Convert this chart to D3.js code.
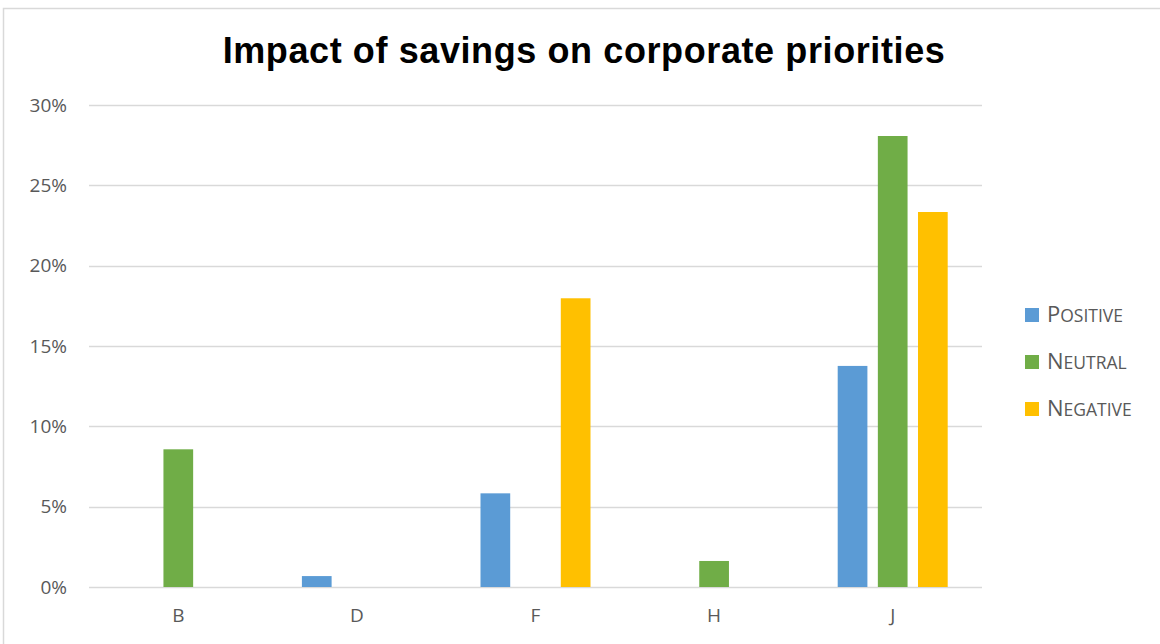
<!DOCTYPE html>
<html>
<head>
<meta charset="utf-8">
<script src="https://cdn.jsdelivr.net/npm/d3@7"></script>
<style>
    body { margin: 0; background: #fff; }
</style>
</head>
<body>
<svg id="chart"></svg>
<script>
// data
var categories = ["B", "D", "F", "H", "J"];
var seriesNames = ["Positive", "Neutral", "Negative"];
var positive = [0, 0.0068, 0.0583, 0, 0.1376];
var neutral = [0.0857, 0, 0, 0.0162, 0.2807];
var negative = [0, 0, 0.1797, 0, 0.2334];
var yTicks = [0, 0.05, 0.10, 0.15, 0.20, 0.25, 0.30];
var colors = ["#5b9bd5", "#70ad47", "#ffc000"];

var seriesValues = [positive, neutral, negative];

var svgWidth = 1160, svgHeight = 644;
var margin = {top: 105, left: 89, right: 178, bottom: 57};
var width = svgWidth - margin.left - margin.right;
var height = svgHeight - margin.top - margin.bottom;

var svg = d3.select("#chart").attr("width", svgWidth).attr("height", svgHeight);

// chart frame
svg.append("rect")
    .attr("x", 3.5).attr("y", 8.5)
    .attr("width", svgWidth).attr("height", svgHeight)
    .attr("fill", "#fff").attr("stroke", "#d9d9d9").attr("stroke-width", 1.5);

svg.append("text")
    .attr("x", 584)
    .attr("y", 63)
    .attr("text-anchor", "middle")
    .style("font-family", "Liberation Sans, Arial, sans-serif")
    .style("font-weight", "bold")
    .style("font-size", "36px")
    .style("letter-spacing", "0.6px")
    .attr("fill", "#000")
    .text("Impact of savings on corporate priorities");

var g = svg.append("g").attr("transform", "translate(" + margin.left + "," + margin.top + ")");

var x = d3.scaleBand().domain(categories).range([0, width]).paddingInner(0).paddingOuter(0);
var x1 = d3.scaleBand().domain(seriesNames).range([x.bandwidth() / 2 - 55, x.bandwidth() / 2 + 55]).paddingInner(0.26).paddingOuter(0);
var y = d3.scaleLinear().domain([0, 0.30]).range([height, 0]);

// gridlines
g.selectAll(".grid")
    .data(yTicks)
    .enter().append("line")
    .attr("class", "grid")
    .attr("x1", 0).attr("x2", width)
    .attr("y1", function (d) { return Math.round(y(d)) + 0.5; })
    .attr("y2", function (d) { return Math.round(y(d)) + 0.5; })
    .attr("stroke", "#d9d9d9")
    .attr("stroke-width", 1.3);

// y axis labels
var yAxis = g.append("g").call(d3.axisLeft(y).tickValues(yTicks).tickFormat(d3.format(".0%")).tickSize(0).tickPadding(22));
yAxis.select(".domain").remove();
yAxis.selectAll("text")
    .style("font-family", "Open Sans, sans-serif")
    .style("font-size", "19px")
    .attr("fill", "#595959");

// x axis labels
var xAxis = g.append("g").attr("transform", "translate(0," + height + ")").call(d3.axisBottom(x).tickSize(0).tickPadding(22));
xAxis.select(".domain").remove();
xAxis.selectAll("text")
    .style("font-family", "Open Sans, sans-serif")
    .style("font-size", "19px")
    .attr("fill", "#595959");

// bars
var groups = g.selectAll(".cat")
    .data(categories)
    .enter().append("g")
    .attr("class", "cat")
    .attr("transform", function (d) { return "translate(" + x(d) + ",0)"; });

groups.selectAll("rect")
    .data(function (d, i) {
        return seriesNames.map(function (s, j) {
            return {series: s, value: seriesValues[j][i], color: colors[j]};
        });
    })
    .enter().append("rect")
    .filter(function (d) { return d.value > 0; })
    .attr("x", function (d) { return x1(d.series); })
    .attr("width", x1.bandwidth())
    .attr("y", function (d) { return y(d.value); })
    .attr("height", function (d) { return height - y(d.value); })
    .attr("fill", function (d) { return d.color; });

// legend (small caps drawn by hand: big first letter, smaller uppercase rest)
var legend = svg.append("g").attr("transform", "translate(1025,315)");
var item = legend.selectAll(".item")
    .data(seriesNames)
    .enter().append("g")
    .attr("class", "item")
    .attr("transform", function (d, i) { return "translate(0," + (i * 47) + ")"; });
item.append("rect")
    .attr("x", 0).attr("y", -7)
    .attr("width", 14).attr("height", 14)
    .attr("fill", function (d, i) { return colors[i]; });
var label = item.append("text")
    .attr("x", 22).attr("y", 7)
    .style("font-family", "Open Sans, sans-serif")
    .attr("fill", "#595959");
label.append("tspan")
    .style("font-size", "22px")
    .text(function (d) { return d.charAt(0); });
label.append("tspan")
    .style("font-size", "17.5px")
    .text(function (d) { return d.slice(1).toUpperCase(); });
</script>
</body>
</html>
